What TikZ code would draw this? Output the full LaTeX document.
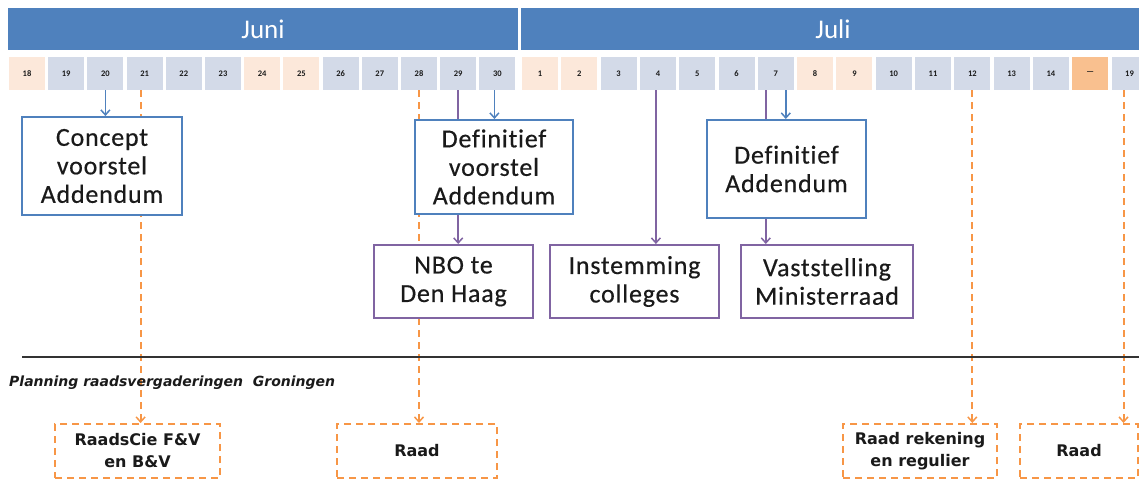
\documentclass[tikz,border=0pt]{standalone}
\usepackage{fontspec}
\setmainfont{Carlito}
\newfontfamily\boxfont[LetterSpace=3,Ligatures={NoCommon,NoContextual},FakeBold=0.4]{Carlito}
\newfontfamily\lowfont{DejaVu Sans}
\usetikzlibrary{arrows.meta,backgrounds}
\definecolor{hdr}{HTML}{4F81BD}
\definecolor{bluebox}{HTML}{4F81BD}
\definecolor{purp}{HTML}{8064A2}
\definecolor{orng}{HTML}{F79646}
\definecolor{wd}{HTML}{D3DAE8}
\definecolor{wk}{HTML}{FCE8DA}
\definecolor{dots}{HTML}{F9C08F}
\definecolor{txt}{HTML}{1A1A1A}
\tikzset{
  hdrbox/.style={fill=hdr,draw=none,minimum height=42pt,inner sep=0pt,text=white,font=\fontsize{27}{30}\selectfont},
  cell/.style={draw=none,minimum width=36pt,minimum height=33pt,inner sep=0pt,text=txt,font=\bfseries\fontsize{8.5}{9}\selectfont},
  bluenode/.style={draw=bluebox,line width=2pt,fill=white,inner sep=0pt,align=center,text=txt,font=\boxfont\fontsize{26}{28.5}\selectfont},
  purpnode/.style={draw=purp,line width=2pt,fill=white,inner sep=0pt,align=center,text=txt,font=\boxfont\fontsize{26}{28.5}\selectfont},
  raadnode/.style={draw=orng,line width=2pt,dash pattern=on 7pt off 5pt,fill=white,inner sep=0pt,align=center,text=txt,font=\lowfont\bfseries\fontsize{16}{22}\selectfont},
  tip/.style={-{Straight Barb[length=5pt,width=9pt,line width=1.5pt]}},
  bluearrow/.style={draw=bluebox,line width=1.8pt,tip},
  purparrow/.style={draw=purp,line width=1.8pt},
  orngarrow/.style={draw=orng,line width=2pt,dash pattern=on 7pt off 5pt,tip},
}
\begin{document}
\begin{tikzpicture}[x=1pt,y=-1pt]
\useasboundingbox (0,0) rectangle (1139,479);
% header
\node[hdrbox,minimum width=510pt] (juni) at (263,29) {Juni};
\node[hdrbox,minimum width=624pt] (juli) at (833,29) {Juli};
% day cells
\foreach \d/\c [count=\i from 0] in {18/wk,19/wd,20/wd,21/wd,22/wd,23/wd,24/wk,25/wk,26/wd,27/wd,28/wd,29/wd,30/wd}
  \node[cell,fill=\c] (jun\d) at ({9+39.2*\i+18},73.5) {\d};
\foreach \d/\c/\l [count=\i from 0] in {1/wk/1,2/wk/2,3/wd/3,4/wd/4,5/wd/5,6/wd/6,7/wd/7,8/wk/8,9/wk/9,10/wd/10,11/wd/11,12/wd/12,13/wd/13,14/wd/14,dots/dots/---,19/wd/19}
  \node[cell,fill=\c] (jul\d) at ({522+39.3*\i+18},73.5) {\l};
% boxes
\node[bluenode,minimum width=160pt,minimum height=98pt] (concept) at (102,166) {Concept\\voorstel\\Addendum};
\node[bluenode,minimum width=158pt,minimum height=94pt] (defvoor) at (494,167) {Definitief\\voorstel\\Addendum};
\node[bluenode,minimum width=159pt,minimum height=98pt] (defadd) at (786.5,169) {Definitief\\Addendum};
\node[purpnode,minimum width=159pt,minimum height=73pt] (nbo) at (453.5,281.5) {NBO te\\Den Haag};
\node[purpnode,minimum width=169pt,minimum height=73pt] (inst) at (634.5,281.5) {Instemming\\colleges};
\node[purpnode,minimum width=172pt,minimum height=73pt] (vast) at (827,281.5) {Vaststelling\\Ministerraad};
% separator and label
\coordinate (lineL) at (22,357);
\coordinate (lineR) at (1139,357);
\draw[line width=2pt,draw=black!80] (lineL) -- (lineR);
\node[anchor=west,inner sep=0pt,text=txt,font=\lowfont\bfseries\itshape\fontsize{14}{16}\selectfont] (plan) at (9,383) {Planning raadsvergaderingen\ \ Groningen};
% bottom boxes
\node[raadnode,minimum width=165pt,minimum height=54pt] (cie) at (137.5,451) {RaadsCie F\&V\\en B\&V};
\node[raadnode,minimum width=160pt,minimum height=54pt] (raad1) at (417,451) {Raad};
\node[raadnode,minimum width=154pt,minimum height=54pt] (rek) at (920,451) {Raad rekening\\en regulier};
\node[raadnode,minimum width=118pt,minimum height=54pt] (raad2) at (1079,451) {Raad};
% connectors
\draw[bluearrow] (jun20.south) -- (jun20.south |- concept.north);
\draw[bluearrow] ([xshift=-3pt]jun30.south) -- ([xshift=-3pt]jun30.south |- defvoor.north);
\draw[bluearrow] ([xshift=10pt]jul7.south) -- ([xshift=10pt]jul7.south |- defadd.north);
\draw[purparrow] (jun29.south) -- (jun29.south |- defvoor.north);
\draw[purparrow,tip] (jun29.south |- defvoor.south) -- (jun29.south |- nbo.north);
\draw[purparrow,tip] ([xshift=-2pt]jul4.south) -- ([xshift=-2pt]jul4.south |- inst.north);
\draw[purparrow] ([xshift=-10pt]jul7.south) -- ([xshift=-10pt]jul7.south |- defadd.north);
\draw[purparrow,tip] ([xshift=-10pt]jul7.south |- defadd.south) -- ([xshift=-10pt]jul7.south |- vast.north);
\begin{pgfonlayer}{background}
\draw[orngarrow] ([xshift=-4pt]jun21.south) -- ([xshift=-4pt]jun21.south |- cie.north);
\draw[orngarrow] (jun28.south) -- (jun28.south |- raad1.north);
\draw[orngarrow] (jul12.south) -- (jul12.south |- rek.north);
\draw[orngarrow] ([xshift=-6pt]jul19.south) -- ([xshift=-6pt]jul19.south |- raad2.north);
\end{pgfonlayer}
\end{tikzpicture}
\end{document}
